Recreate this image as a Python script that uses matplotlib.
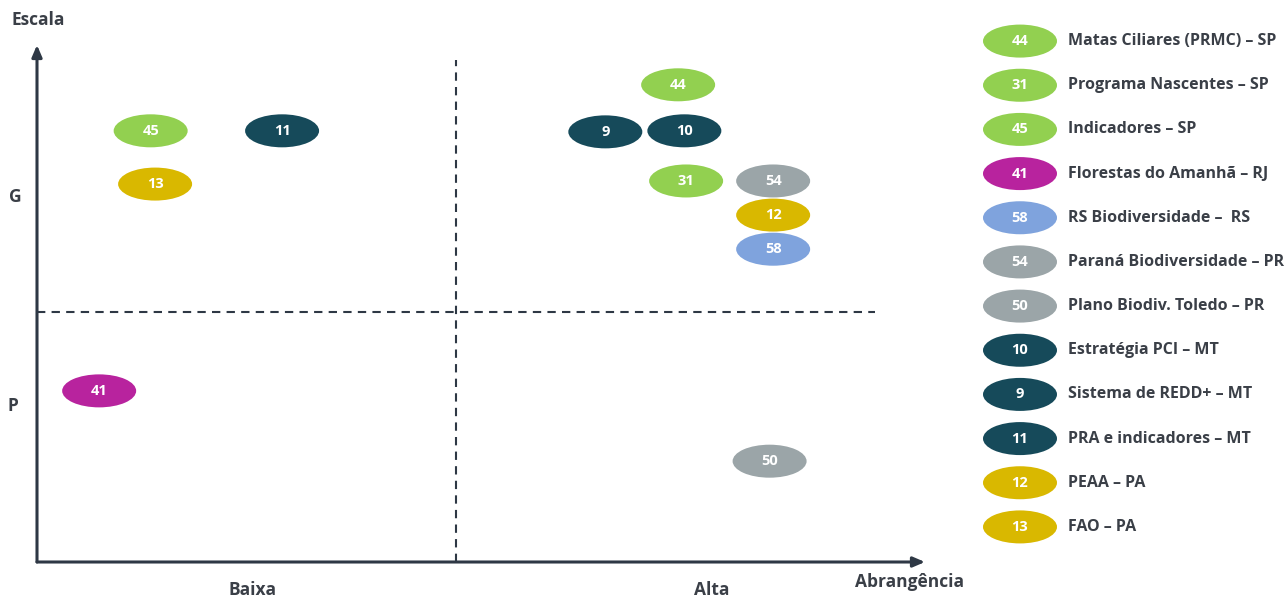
import matplotlib
matplotlib.use("Agg")
import matplotlib.pyplot as plt
from matplotlib.patches import Ellipse

plt.rcParams['font.family'] = ['Open Sans', 'DejaVu Sans']

# Programs: id, abrangencia (0-100), escala (0-100), colour group
prog_ids = ["45", "11", "13", "41", "44", "9", "10", "31", "54", "12", "58", "50"]
abrangencia = [12.8, 27.6, 13.3, 7.0, 72.2, 64.0, 72.9, 73.1, 82.9, 82.9, 82.9, 82.5]
escala = [83.4, 83.4, 73.1, 33.1, 92.3, 83.2, 83.4, 73.7, 73.7, 67.1, 60.5, 19.5]
groups = ["SP", "MT", "PA", "RJ", "SP", "MT", "MT", "SP", "PR", "PA", "RS", "PR"]

# Legend entries
leg_ids = ["44", "31", "45", "41", "58", "54", "50", "10", "9", "11", "12", "13"]
leg_labels = ["Matas Ciliares (PRMC) – SP", "Programa Nascentes – SP", "Indicadores – SP",
              "Florestas do Amanhã – RJ", "RS Biodiversidade –  RS", "Paraná Biodiversidade – PR",
              "Plano Biodiv. Toledo – PR", "Estratégia PCI – MT", "Sistema de REDD+ – MT",
              "PRA e indicadores – MT", "PEAA – PA", "FAO – PA"]
leg_groups = ["SP", "SP", "SP", "RJ", "RS", "PR", "PR", "MT", "MT", "MT", "PA", "PA"]

colors = {"SP": "#92d050", "MT": "#164a5a", "PA": "#d9b800", "RJ": "#b8239e",
          "RS": "#7fa3dd", "PR": "#9ba5a8"}

x_split = 47.2
y_split = 48.4

axis_col = "#2e3845"
text_col = "#3a3f47"

W, H = 1285, 598
fig = plt.figure(figsize=(W / 100, H / 100), dpi=100)

# main quadrant chart
ax = fig.add_axes([37 / W, (H - 562) / H, 888 / W, 517 / H])
ax.set_xlim(0, 100)
ax.set_ylim(0, 100)
ax.axis("off")

ax.annotate("", xy=(0, 100), xytext=(0, 0),
            arrowprops=dict(arrowstyle="-|>,head_length=0.7,head_width=0.3", color=axis_col, lw=2.2,
                            shrinkA=0, shrinkB=0), annotation_clip=False)
ax.annotate("", xy=(100, 0), xytext=(0, 0),
            arrowprops=dict(arrowstyle="-|>,head_length=0.7,head_width=0.3", color=axis_col, lw=2.2,
                            shrinkA=0, shrinkB=0), annotation_clip=False)

ax.plot([x_split, x_split], [0, 97.1], ls=(0, (4, 3)), color=axis_col, lw=1.5)
ax.plot([0, 94.4], [y_split, y_split], ls=(0, (4, 3)), color=axis_col, lw=1.5)

ew, eh = 74 / 8.88, 33 / 5.17
for pid, xv, yv, g in zip(prog_ids, abrangencia, escala, groups):
    ax.add_patch(Ellipse((xv, yv), ew, eh, facecolor=colors[g], edgecolor="none"))
    ax.text(xv, yv, pid, color="white", fontsize=10.5, fontweight="bold", ha="center", va="center")

tkw = dict(color=text_col, fontweight="bold", clip_on=False)
ax.text(0.1, 104.8, "Escala", fontsize=12.5, ha="center", va="center", **tkw)
ax.text(-2.4, 70.6, "G", fontsize=12.5, ha="center", va="center", **tkw)
ax.text(-2.7, 30.2, "P", fontsize=12.5, ha="center", va="center", **tkw)
ax.text(24.3, -5.4, "Baixa", fontsize=12.5, ha="center", va="center", **tkw)
ax.text(76.0, -5.4, "Alta", fontsize=12.5, ha="center", va="center", **tkw)
ax.text(98.3, -3.9, "Abrangência", fontsize=12.5, ha="center", va="center", **tkw)

# legend
lax = fig.add_axes([975 / W, (H - 549) / H, 310 / W, 530 / H])
lax.set_xlim(0, 310)
n = len(leg_ids)
lax.set_ylim(n - 0.5, -0.5)
lax.axis("off")
row_px = 530 / n
for i, (pid, lab, g) in enumerate(zip(leg_ids, leg_labels, leg_groups)):
    lax.add_patch(Ellipse((45, i), 74, 33 / row_px, facecolor=colors[g], edgecolor="none"))
    lax.text(45, i, pid, color="white", fontsize=10.5, fontweight="bold", ha="center", va="center")
    lax.text(93, i, lab, color=text_col, fontsize=11.5, fontweight="bold", ha="left", va="center",
             clip_on=False)

fig.savefig("out.png", dpi=100, facecolor="white")
